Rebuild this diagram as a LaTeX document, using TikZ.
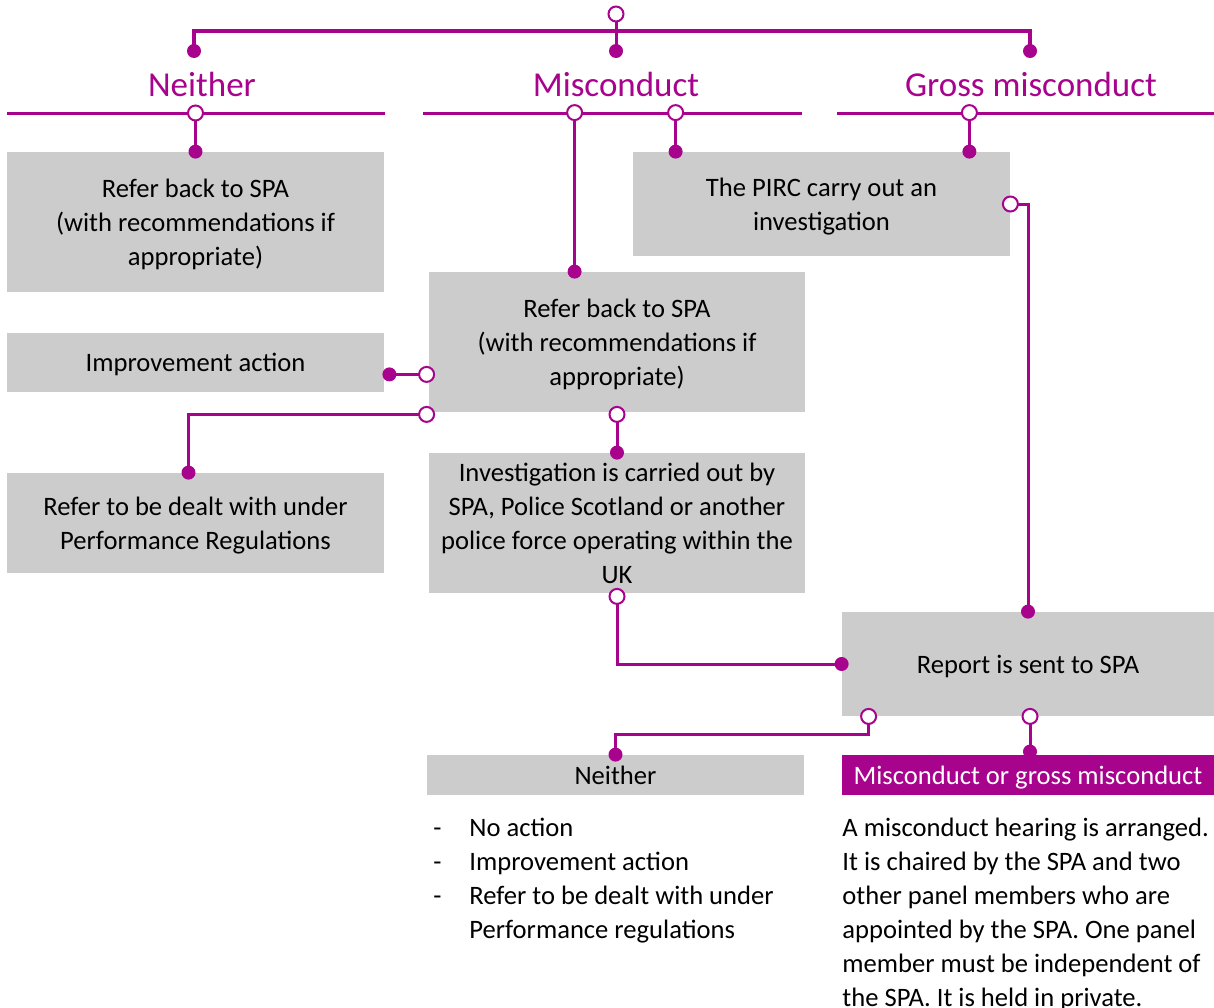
\documentclass[tikz,border=0pt]{standalone}
\usepackage{fontspec}
\setmainfont{Carlito}
\usetikzlibrary{calc}
\definecolor{plum}{HTML}{A8038D}
\definecolor{shade}{HTML}{CCCCCC}
\tikzset{box/.style={fill=shade,minimum width=188.5pt,align=center,inner sep=0pt,
  text depth=0pt,font=\fontsize{13.3}{17}\selectfont},
  head/.style={text=plum,font=\fontsize{17.5}{20}\selectfont},
  link/.style={draw=plum,line width=1.5pt},
  odot/.style={circle,draw=plum,fill=white,line width=1pt,minimum size=7.5pt,inner sep=0pt},
  fdot/.style={circle,fill=plum,minimum size=7pt,inner sep=0pt}}

\begin{document}
\begin{tikzpicture}[x=0.5pt,y=-0.5pt]
\useasboundingbox (0,0) rectangle (1214,1007);
% outcome headings and rules
\node[head] (hN) at (202,84) {Neither};
\node[head] (hM) at (616,84) {Misconduct};
\node[head] (hG) at (1031,84) {Gross misconduct};
\coordinate (rN) at (7,113);
\coordinate (rM) at (423,113);
\coordinate (rG) at (837,113);
\draw[link] (rN) -- (385,113);
\draw[link] (rM) -- (802,113);
\draw[link] (rG) -- (1214,113);
% split into the three outcomes
\coordinate (src) at (616,14);
\coordinate (hub) at (616,31);
\coordinate (kN) at (194,51);
\coordinate (kM) at (616,51);
\coordinate (kG) at (1030,51);
\draw[link,line width=2pt] (kN) node[fdot]{} |- (hub) -| (kG) node[fdot]{};
\draw[link] (src) node[odot]{} -- (kM) node[fdot]{};
% boxes
\node[box,minimum height=70pt] (bN) at (195.5,222) {Refer back to SPA\\(with recommendations if\\appropriate)};
\node[box,minimum height=52pt] (pirc) at (821.5,204) {The PIRC carry out an\\investigation};
\node[box,minimum height=70pt,minimum width=188pt] (bM) at (617,342) {Refer back to SPA\\(with recommendations if\\appropriate)};
\node[box,minimum height=29.5pt] (imp) at (195.5,362.5) {Improvement action};
\node[box,minimum height=50pt] (perf) at (195.5,523) {Refer to be dealt with under\\Performance Regulations};
\node[box,minimum height=70pt,minimum width=188pt] (inv) at (617,523) {Investigation is carried out by\\SPA, Police Scotland or another\\police force operating within the\\UK};
\node[box,minimum height=52pt,minimum width=186pt] (rep) at (1028,664) {Report is sent to SPA};
\node[box,minimum height=20pt] (nei) at (615.5,775) {Neither};
\node[box,minimum height=20pt,minimum width=186pt,fill=plum,text=white] (mgm) at (1028,775) {Misconduct or gross misconduct};
\node[anchor=north west,inner sep=0pt,font=\fontsize{13.3}{17}\selectfont] (opts) at (433,812)
  {\begin{tabular}{@{}p{18pt}@{}l@{}}
   - & No action\\
   - & Improvement action\\
   - & Refer to be dealt with under\\
     & Performance regulations
   \end{tabular}};
\node[anchor=north west,inner sep=0pt,align=left,font=\fontsize{13.3}{17}\selectfont] (hear) at (842,818)
  {A misconduct hearing is arranged.\\It is chaired by the SPA and two\\other panel members who are\\appointed by the SPA. One panel\\member must be independent of\\the SPA. It is held in private.};
% connectors
\draw[link] (bN.north |- rN) node[odot]{} -- (bN.north) node[fdot]{};
\draw[link] ($(bM.north west)+(146,-159)$) node[odot]{} -- ($(bM.north west)+(146,0)$) node[fdot]{};
\draw[link] ($(pirc.north west)+(43,-39)$) node[odot]{} -- ($(pirc.north west)+(43,0)$) node[fdot]{};
\draw[link] ($(pirc.north east)+(-41,-39)$) node[odot]{} -- ($(pirc.north east)+(-41,0)$) node[fdot]{};
\draw[link] (pirc.east) node[odot]{} -| (rep.north) node[fdot]{};
\draw[link] ($(bM.south west)+(-2,-38)$) coordinate (mi) node[odot]{} -- ($(imp.east |- mi)+(5,0)$) node[fdot]{};
\draw[link] ($(bM.south west)+(-2,2)$) node[odot]{} -| ($(perf.north)+(-7,0)$) node[fdot]{};
\draw[link] ($(bM.south)+(0,2)$) node[odot]{} -- (inv.north) node[fdot]{};
\draw[link] ($(inv.south)+(0,3)$) node[odot]{} |- (rep.west) node[fdot]{};
\draw[link] ($(rep.south west)+(27,0)$) node[odot]{} -- ++(0,18) -| (nei.north) node[fdot]{};
\draw[link] ($(rep.south)+(2,0)$) node[odot]{} -- ($(mgm.north)+(2,-3)$) node[fdot]{};
\end{tikzpicture}
\end{document}
